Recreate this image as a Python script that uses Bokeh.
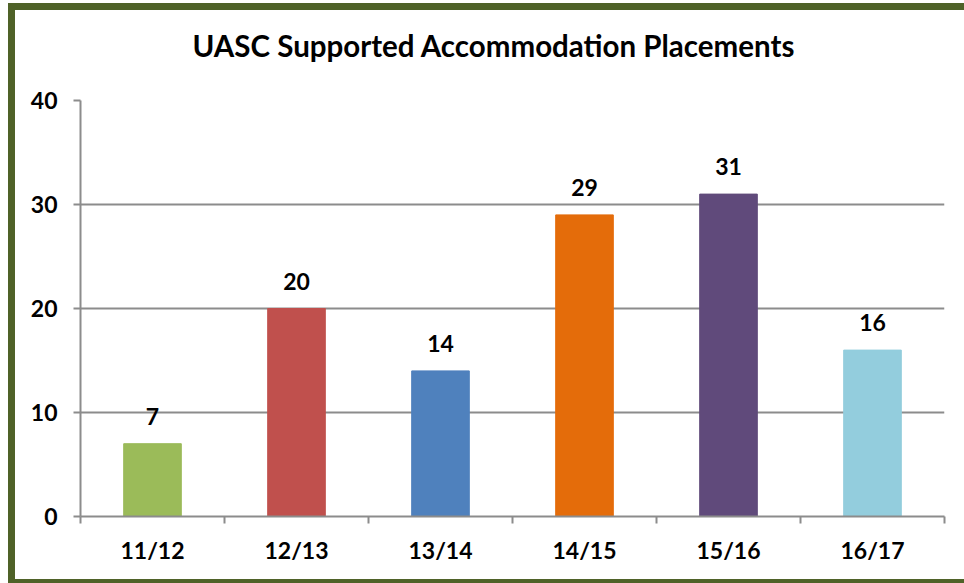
from bokeh.plotting import figure
from bokeh.models import ColumnDataSource, LabelSet, FixedTicker, Range1d, Title
from bokeh.core.properties import value
from bokeh.embed import file_html
from bokeh.resources import INLINE

categories = ["11/12", "12/13", "13/14", "14/15", "15/16", "16/17"]
values = [7, 20, 14, 29, 31, 16]
colors = ["#9BBB59", "#C0504D", "#4F81BD", "#E46C0A", "#604A7B", "#93CDDD"]
y_ticks = [0, 10, 20, 30, 40]
title_text = "UASC Supported Accommodation Placements"

FONT = "Lato"
GRID = "#8C8C8C"
FRAME = "#4F6228"
n = len(categories)
centers = [i + 0.5 for i in range(n)]
boundaries = list(range(n + 1))

source = ColumnDataSource(dict(x=centers, top=values, color=colors,
                               label=[str(v) for v in values]))

solid = f"linear-gradient({FRAME}, {FRAME})"
frame_styles = {
    "background-color": "white",
    "background-image": ", ".join([solid, solid, solid]),
    "background-repeat": "no-repeat",
    "background-position": "8px 3px, 8px 3px, 8px 579px",
    "background-size": "7px 576px, 956px 7px, 956px 4px",
}

p = figure(width=964, height=583, output_backend="svg", toolbar_location=None,
           x_range=Range1d(0, n), y_range=Range1d(0, 40), title=None,
           min_border_left=80, min_border_right=20, min_border_top=100, min_border_bottom=67,
           styles=frame_styles)
p.outline_line_color = None
p.background_fill_color = "white"
p.border_fill_color = None

p.vbar(x="x", top="top", width=0.4, color="color", source=source)

labels = LabelSet(x="x", y="top", text="label", source=source, text_align="center",
                  text_baseline="alphabetic", y_offset=19, text_font=value(FONT),
                  text_font_style="bold", text_font_size="23px", text_color="black")
p.add_layout(labels)

# spacer title (nearest the frame) then the real title above it
p.add_layout(Title(text=" ", text_font_size="17px", text_font=FONT), "above")
p.add_layout(Title(text=title_text, align="left", offset=112, text_font=FONT,
                   text_font_style="bold", text_font_size="29.5px", text_color="black"),
             "above")

# x axis
p.xaxis.ticker = FixedTicker(ticks=centers, minor_ticks=boundaries)
p.xaxis.major_label_overrides = {c: cat for c, cat in zip(centers, categories)}
p.xaxis.major_tick_out = 0
p.xaxis.major_tick_in = 0
p.xaxis.minor_tick_out = 7
p.xaxis.minor_tick_in = 0
p.xaxis.minor_tick_line_color = GRID
p.xaxis.minor_tick_line_width = 2
p.xaxis.axis_line_color = GRID
p.xaxis.axis_line_width = 2
p.xaxis.major_label_standoff = 12
p.xaxis.major_label_text_font = FONT
p.xaxis.major_label_text_font_style = "bold"
p.xaxis.major_label_text_font_size = "23px"
p.xaxis.major_label_text_color = "black"

# y axis
p.yaxis.ticker = FixedTicker(ticks=y_ticks, minor_ticks=[])
p.yaxis.major_tick_out = 7
p.yaxis.major_tick_in = 0
p.yaxis.major_tick_line_color = GRID
p.yaxis.major_tick_line_width = 2
p.yaxis.axis_line_color = GRID
p.yaxis.axis_line_width = 2
p.yaxis.major_label_standoff = 16
p.yaxis.major_label_text_font = FONT
p.yaxis.major_label_text_font_style = "bold"
p.yaxis.major_label_text_font_size = "23px"
p.yaxis.major_label_text_color = "black"

p.xgrid.grid_line_color = None
p.ygrid.grid_line_color = GRID
p.ygrid.grid_line_width = 2

open("out.html", "w").write(file_html(p, INLINE))
